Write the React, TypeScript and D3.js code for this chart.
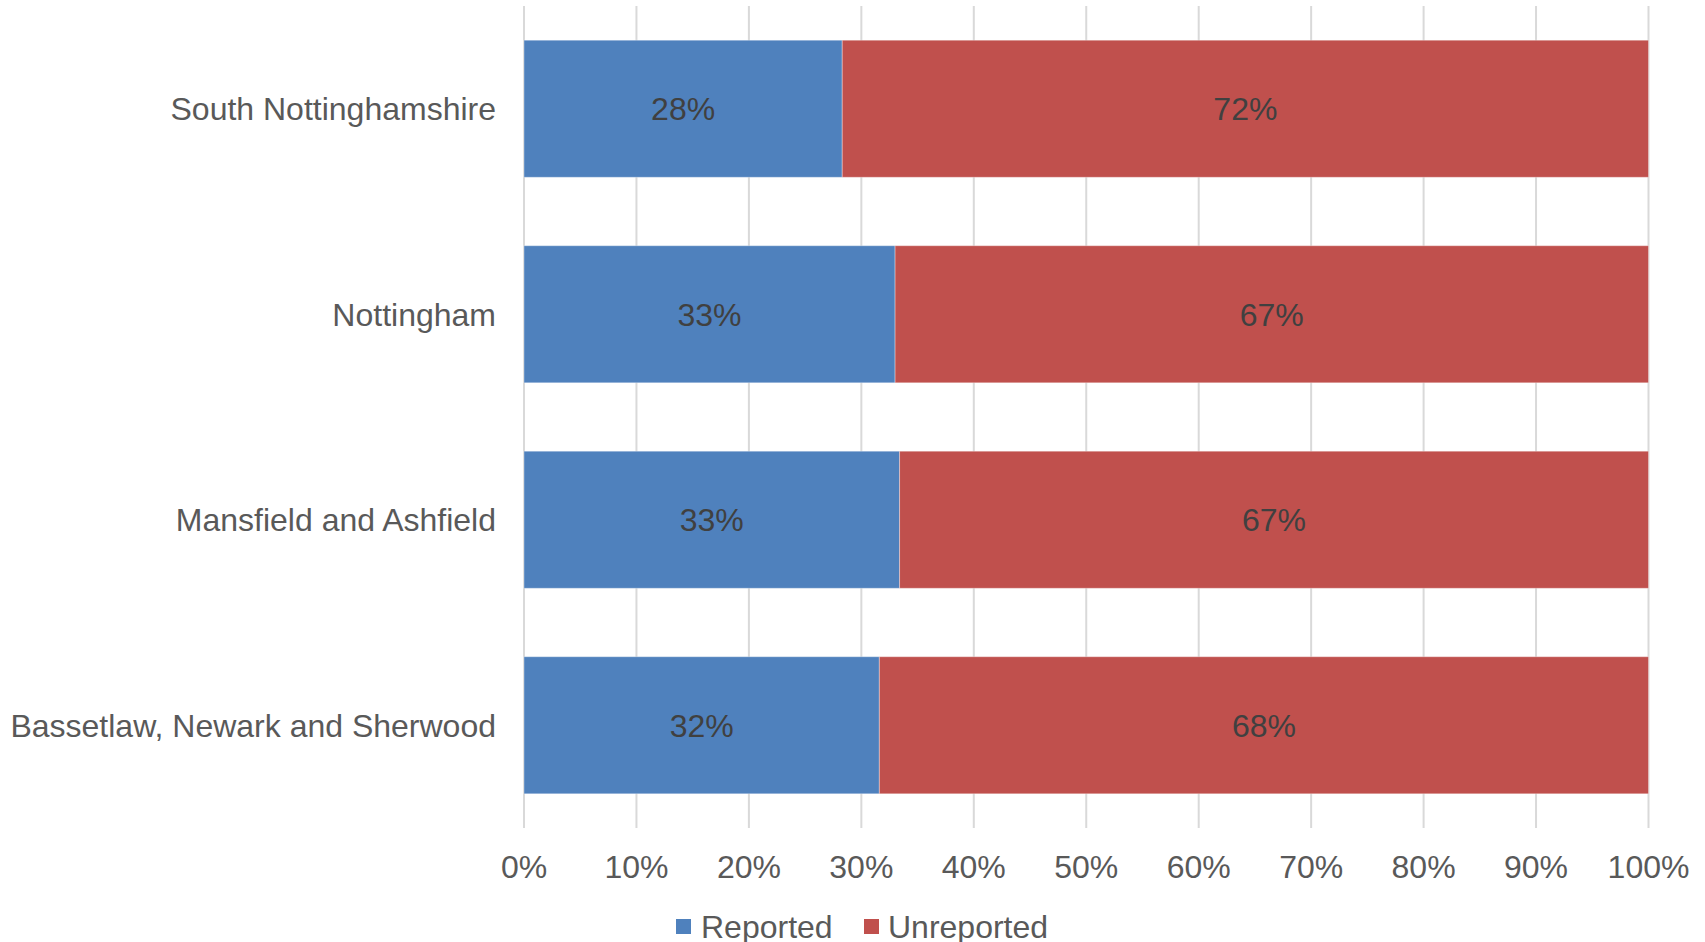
import React from "react";
import * as d3 from "d3";

const categories = [
  "South Nottinghamshire",
  "Nottingham",
  "Mansfield and Ashfield",
  "Bassetlaw, Newark and Sherwood",
];
const reported = [28.3, 33.0, 33.4, 31.6];
const unreported = [71.7, 67.0, 66.6, 68.4];
const seriesNames = ["Reported", "Unreported"];
const seriesColors = ["#4F81BD", "#C0504D"];
const xTicks = [0, 10, 20, 30, 40, 50, 60, 70, 80, 90, 100];

const W = 1705;
const H = 942;
const left = 524;
const right = 1648.5;
const top = 6;
const bottom = 828;
const FONT = "'Liberation Sans', Arial, sans-serif";

export default function App() {
  const x = d3.scaleLinear().domain([0, 100]).range([left, right]);
  const y = d3
    .scaleBand<string>()
    .domain(categories)
    .range([top, bottom])
    .paddingInner(0.333)
    .paddingOuter(0.1665);

  const rows = categories.map((c, i) => ({
    cat: c,
    segs: [
      { v0: 0, v1: reported[i], color: seriesColors[0], val: reported[i] },
      { v0: reported[i], v1: reported[i] + unreported[i], color: seriesColors[1], val: unreported[i] },
    ],
  }));

  const legendItems = [
    { name: seriesNames[0], color: seriesColors[0], sx: 676, tx: 701 },
    { name: seriesNames[1], color: seriesColors[1], sx: 864, tx: 888 },
  ];

  return (
    <svg
      width={W}
      height={H}
      style={{ position: "absolute", left: 0, top: 0, background: "#fff" }}
      fontFamily={FONT}
    >
      <rect x={0} y={0} width={W} height={H} fill="#fff" />
      {xTicks.map((t) => (
        <line
          key={"g" + t}
          x1={x(t)}
          x2={x(t)}
          y1={top}
          y2={bottom}
          stroke="#D9D9D9"
          strokeWidth={2}
        />
      ))}
      {rows.map((r) =>
        r.segs.map((s, j) => (
          <rect
            key={r.cat + j}
            x={x(s.v0)}
            y={y(r.cat)!}
            width={x(s.v1) - x(s.v0)}
            height={y.bandwidth()}
            fill={s.color}
            stroke="#ffffff"
            strokeOpacity={0.35}
            strokeWidth={1}
          />
        ))
      )}
      {rows.map((r) =>
        r.segs.map((s, j) => (
          <text
            key={"l" + r.cat + j}
            x={(x(s.v0) + x(s.v1)) / 2}
            y={y(r.cat)! + y.bandwidth() / 2}
            dy="0.36em"
            textAnchor="middle"
            fontSize={32}
            fill="#404040"
          >
            {Math.round(s.val) + "%"}
          </text>
        ))
      )}
      {categories.map((c) => (
        <text
          key={"c" + c}
          x={496}
          y={y(c)! + y.bandwidth() / 2}
          dy="0.36em"
          textAnchor="end"
          fontSize={32}
          fill="#595959"
        >
          {c}
        </text>
      ))}
      {xTicks.map((t) => (
        <text
          key={"t" + t}
          x={x(t)}
          y={866}
          dy="0.36em"
          textAnchor="middle"
          fontSize={32}
          fill="#595959"
        >
          {t + "%"}
        </text>
      ))}
      {legendItems.map((l) => (
        <g key={l.name}>
          <rect x={l.sx} y={919} width={15} height={15} fill={l.color} />
          <text x={l.tx} y={926} dy="0.36em" fontSize={32} fill="#595959">
            {l.name}
          </text>
        </g>
      ))}
    </svg>
  );
}
